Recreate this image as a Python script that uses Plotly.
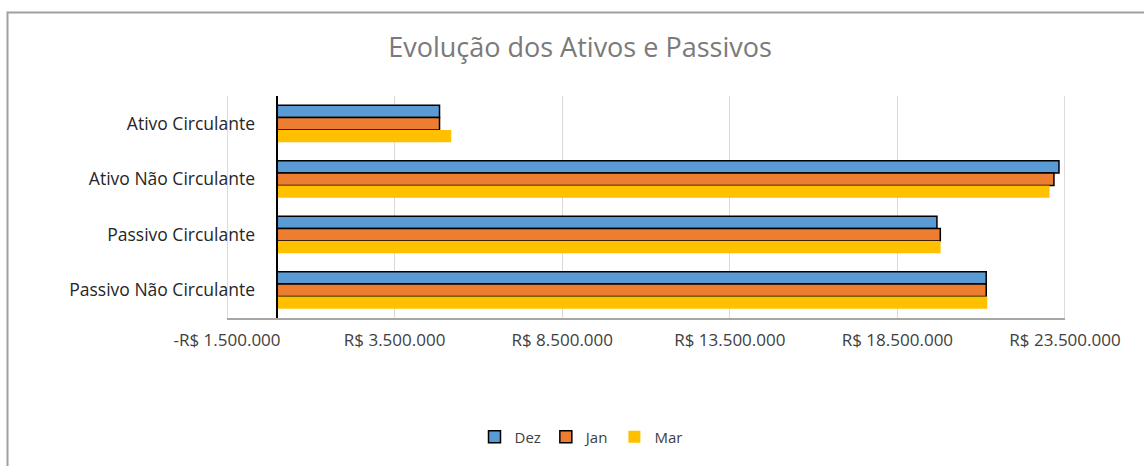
import plotly.graph_objects as go

categories = ["Ativo Circulante", "Ativo Não Circulante", "Passivo Circulante", "Passivo Não Circulante"]
dez = [4840000, 23320000, 19680000, 21150000]
jan = [4840000, 23170000, 19780000, 21150000]
mar = [5190000, 23040000, 19790000, 21180000]

tick_vals = [-1500000, 3500000, 8500000, 13500000, 18500000, 23500000]
tick_text = ["-R$ 1.500.000", "R$ 3.500.000", "R$ 8.500.000", "R$ 13.500.000", "R$ 18.500.000", "R$ 23.500.000"]

W, H = 1144, 466
L, R, T, B = 227, 1065, 96, 318
pw, ph = R - L, B - T

fig = go.Figure()
series = [("Dez", dez, "#5B9BD5", 1.5), ("Jan", jan, "#ED7D31", 1.5), ("Mar", mar, "#FFC000", 0)]
for name, vals, col, lw in series:
    fig.add_trace(go.Bar(
        y=categories, x=vals, name=name, orientation="h",
        marker=dict(color=col, line=dict(color="#000000", width=lw)),
    ))

zero_pos = (0 - tick_vals[0]) / (tick_vals[-1] - tick_vals[0])

edge_grid = [dict(type="line", xref="x", yref="paper", x0=v, x1=v, y0=0, y1=1,
                  line=dict(color="#d0d0d0", width=1.5), layer="below")
             for v in (tick_vals[0], tick_vals[-1])]

fig.update_layout(
    width=W, height=H,
    margin=dict(l=L, r=W - R, t=T, b=H - B),
    paper_bgcolor="white", plot_bgcolor="white",
    barmode="group", bargap=0.333, bargroupgap=0,
    font=dict(family="Open Sans", color="#595959"),
    title=dict(text="Evolução dos Ativos e Passivos", x=(580 - L) / pw, xref="paper",
               xanchor="center", y=1 - 48 / H, yanchor="middle",
               font=dict(family="Open Sans", size=27, color="#7a7a7a")),
    xaxis=dict(range=[tick_vals[0], tick_vals[-1]], tickvals=tick_vals, ticktext=tick_text,
               showgrid=True, gridcolor="#d9d9d9", gridwidth=1,
               showline=True, linecolor="#a6a6a6", linewidth=1.5,
               zeroline=False, ticks="", ticklabelstandoff=6,
               tickfont=dict(family="Open Sans", size=17, color="#404040"), domain=[0, 1]),
    yaxis=dict(autorange="reversed", anchor="free", position=zero_pos,
               showline=True, linecolor="#000000", linewidth=1.5, showgrid=False,
               ticks="", ticklabelstandoff=18,
               tickfont=dict(family="Open Sans", size=17.5, color="#262626")),
    legend=dict(orientation="h", x=(581 - L) / pw, xanchor="center",
                y=(B - 437) / ph, yanchor="middle", traceorder="normal",
                font=dict(family="Open Sans", size=15, color="#404040")),
    shapes=[dict(type="rect", xref="paper", yref="paper",
                 x0=(7.5 - L) / pw, x1=(1200 - L) / pw,
                 y0=(B - 500) / ph, y1=1 + (T - 12.5) / ph,
                 line=dict(color="#a0a0a0", width=2), fillcolor="rgba(0,0,0,0)", layer="below")]
           + edge_grid,
)

fig.write_html("out.html", config={"displayModeBar": False},
               post_script="document.body.style.margin='0';document.body.style.overflow='hidden';")
